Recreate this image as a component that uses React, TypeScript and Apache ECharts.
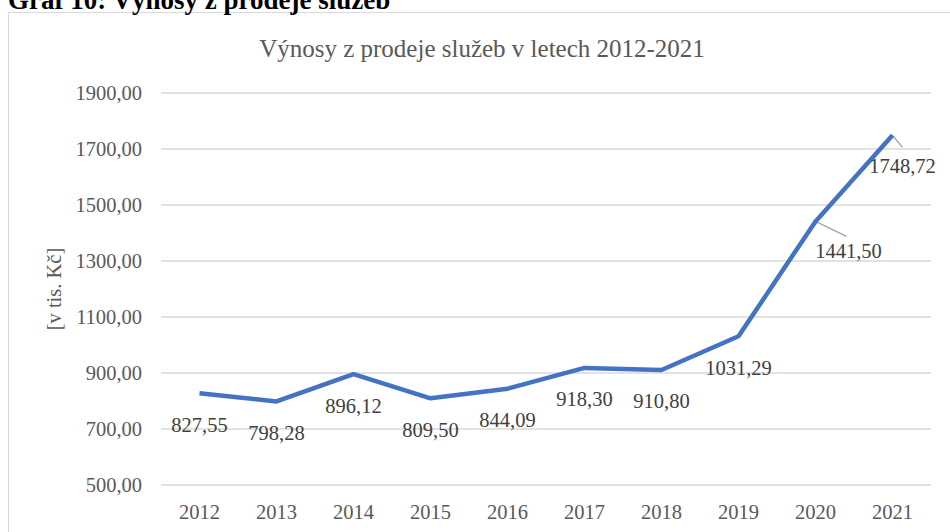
import React, { useEffect, useRef } from "react";
import * as echarts from "echarts";

const years = ["2012", "2013", "2014", "2015", "2016", "2017", "2018", "2019", "2020", "2021"];
const values = [827.55, 798.28, 896.12, 809.5, 844.09, 918.3, 910.8, 1031.29, 1441.5, 1748.72];
const yTicks = [500, 700, 900, 1100, 1300, 1500, 1700, 1900];

const FONT = "Liberation Serif";
const fmt = (v: number) => v.toFixed(2).replace(".", ",");

// label offsets (px) for the two labels that Excel moved aside, and their leader ends
const labelOffsets: Record<number, [number, number]> = { 8: [33, -2], 9: [10, -1] };
const leaderEnds: Record<number, [number, number]> = { 8: [31, 15], 9: [10, 12] };

export default function App() {
  const ref = useRef<HTMLDivElement>(null);
  useEffect(() => {
    if (!ref.current) return;
    const chart = echarts.init(ref.current, undefined, { renderer: "svg" });
    const baseGraphic: any[] = [
      {
        type: "rect",
        shape: { x: 8.5, y: 12.5, width: 1200, height: 800 },
        style: { fill: "none", stroke: "#d9d9d9", lineWidth: 1 },
        silent: true,
        z: -1,
      },
      {
        type: "text",
        x: 8,
        y: 13,
        style: {
          text: "Graf 10: Výnosy z prodeje služeb",
          fontFamily: FONT,
          fontSize: 27,
          fontWeight: "bold",
          fill: "#000000",
          textVerticalAlign: "bottom",
        },
      },
      {
        type: "text",
        x: 482,
        y: 48,
        style: {
          text: "Výnosy z prodeje služeb v letech 2012-2021",
          fontFamily: FONT,
          fontSize: 25,
          fill: "#595959",
          textAlign: "center",
          textVerticalAlign: "middle",
        },
      },
    ];
    chart.setOption({
      animation: false,
      backgroundColor: "#ffffff",
      graphic: baseGraphic,
      grid: { left: 161, right: 19, top: 93, bottom: 47 },
      xAxis: {
        type: "category",
        data: years,
        boundaryGap: true,
        axisLine: { show: false },
        axisTick: { show: false },
        axisLabel: { color: "#595959", fontFamily: FONT, fontSize: 20.5, margin: 16 },
      },
      yAxis: {
        type: "value",
        min: 500,
        max: 1900,
        interval: 200,
        name: "[v tis. Kč]",
        nameLocation: "middle",
        nameGap: 96,
        nameTextStyle: { color: "#595959", fontFamily: FONT, fontSize: 20.5 },
        axisLine: { show: false },
        axisTick: { show: false },
        axisLabel: {
          color: "#595959",
          fontFamily: FONT,
          fontSize: 20.5,
          margin: 19,
          formatter: (v: number) => (yTicks.includes(v) ? fmt(v) : ""),
        },
        splitLine: { lineStyle: { color: "#d9d9d9", width: 1.5 } },
      },
      series: [
        {
          type: "line",
          data: values.map((v, i) =>
            labelOffsets[i] ? { value: v, label: { offset: labelOffsets[i] } } : v
          ),
          showSymbol: true,
          symbol: "circle",
          symbolSize: 0,
          lineStyle: { color: "#4472C4", width: 4.5 },
          itemStyle: { color: "#4472C4" },
          label: {
            show: true,
            position: "bottom",
            distance: 21,
            color: "#404040",
            fontFamily: FONT,
            fontSize: 20.5,
            formatter: (p: any) => fmt(p.value),
          },
        },
      ],
    });
    const leaders: any[] = Object.keys(leaderEnds).map((k) => {
      const i = Number(k);
      const p = chart.convertToPixel({ gridIndex: 0 }, [years[i], values[i]]) as number[];
      const e = leaderEnds[i];
      return {
        type: "line",
        shape: { x1: p[0], y1: p[1], x2: p[0] + e[0], y2: p[1] + e[1] },
        style: { stroke: "#a6a6a6", lineWidth: 1.5 },
        silent: true,
        z: 1,
      };
    });
    chart.setOption({ graphic: [...baseGraphic, ...leaders] }, { replaceMerge: ["graphic"] });
    return () => chart.dispose();
  }, []);
  return (
    <div
      ref={ref}
      style={{ position: "fixed", left: 0, top: 0, width: 950, height: 532 }}
    />
  );
}
